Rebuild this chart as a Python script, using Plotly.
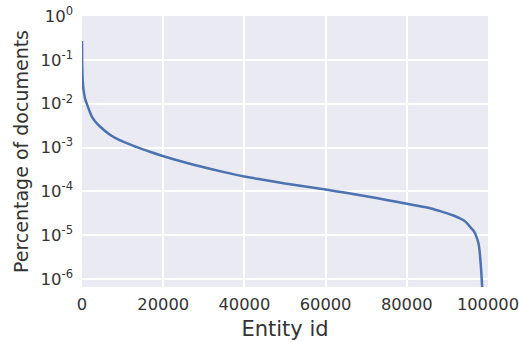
import plotly.graph_objects as go

entity_id = [0, 30, 80, 170, 300, 490, 800, 1150, 1700, 2390, 3300, 4430, 6890, 9000,
             11000, 13500, 16900, 20500, 25000, 30000, 35000, 40000, 45000, 50000,
             55000, 60000, 65000, 70000, 75000, 80000, 83300, 86000, 88240, 90000,
             91500, 93000, 94000, 95000, 95600, 96300, 96850, 97300, 97670, 97900,
             98080, 98330, 98570, 98700]
pct_docs = [0.269, 0.100, 0.0562, 0.0347, 0.0240, 0.0174, 0.0126, 0.0102, 0.00741,
            0.00513, 0.00389, 0.00302, 0.00195, 0.00151, 0.00126, 0.00102, 0.000794,
            0.000617, 0.000468, 0.000355, 0.000275, 0.000219, 0.000182, 0.000151,
            0.000129, 0.000110, 9.33e-5, 7.76e-5, 6.40e-5, 5.25e-5, 4.57e-5, 4.07e-5,
            3.55e-5, 3.16e-5, 2.82e-5, 2.45e-5, 2.19e-5, 1.82e-5, 1.55e-5, 1.32e-5,
            1.10e-5, 8.51e-6, 6.46e-6, 4.68e-6, 3.16e-6, 1.58e-6, 6.6e-7, 4.0e-7]

y_tickvals = [1, 1e-1, 1e-2, 1e-3, 1e-4, 1e-5, 1e-6]
y_ticktext = ["10<sup>0</sup>", "10<sup>-1</sup>", "10<sup>-2</sup>", "10<sup>-3</sup>",
              "10<sup>-4</sup>", "10<sup>-5</sup>", "10<sup>-6</sup>"]
x_tickvals = [0, 20000, 40000, 60000, 80000, 100000]
x_ticktext = ["0", "20000", "40000", "60000", "80000", "100000"]

fig = go.Figure()
fig.add_trace(go.Scatter(x=entity_id, y=pct_docs, mode="lines",
                         line=dict(color="#4c72b0", width=2.5, shape="spline", smoothing=0.6),
                         showlegend=False))

font_family = "DejaVu Sans"
fig.update_layout(
    width=519, height=342,
    margin=dict(l=82, r=31, t=16, b=55),
    paper_bgcolor="white", plot_bgcolor="#eaeaf2",
    font=dict(family=font_family, size=16.5, color="#333333"),
)
fig.update_xaxes(
    range=[0, 100010], tickvals=x_tickvals, ticktext=x_ticktext,
    showgrid=True, gridcolor="white", gridwidth=1.5, zeroline=False,
    showline=False, ticks="", ticklabelstandoff=6, automargin=False,
    ticklabeloverflow="allow", tickfont=dict(size=16.3),
    title=dict(text="Entity id", font=dict(size=21, family=font_family, color="#333333"), standoff=8),
)
fig.update_yaxes(
    type="log", range=[-6.18, 0], tickvals=y_tickvals, ticktext=y_ticktext,
    showgrid=True, gridcolor="white", gridwidth=1.5, zeroline=False,
    showline=False, ticks="", ticklabelstandoff=8, automargin=False,
    title=dict(text="Percentage of documents", font=dict(size=19, family=font_family, color="#333333"), standoff=6),
)
fig.write_html("out.html", config={"displayModeBar": False},
               post_script="document.body.style.margin='0';document.body.style.overflow='hidden';")
